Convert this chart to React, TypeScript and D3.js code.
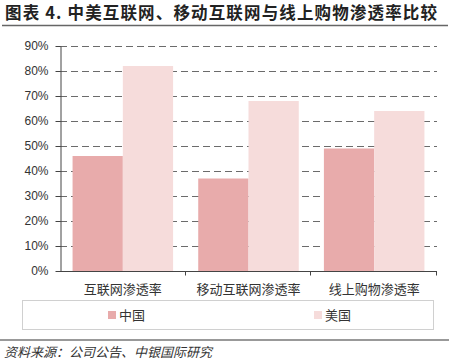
import React, { useEffect, useRef } from 'react';
import * as d3 from 'd3';

const categories = ['互联网渗透率', '移动互联网渗透率', '线上购物渗透率'];
const seriesNames = ['中国', '美国'];
const chinaValues = [0.46, 0.37, 0.49];
const usValues = [0.82, 0.68, 0.64];
const yTicks = [0, 0.1, 0.2, 0.3, 0.4, 0.5, 0.6, 0.7, 0.8, 0.9];

const title = '图表 4. 中美互联网、移动互联网与线上购物渗透率比较';
const source = '资料来源：公司公告、中银国际研究';

const W = 450;
const H = 362;
const colors = ['#E8ABAB', '#F6DCDB'];
const cjk = '"Noto Sans CJK SC", "Noto Sans", sans-serif';

const App: React.FC = () => {
    const svgRef = useRef<SVGSVGElement | null>(null);

    useEffect(() => {
        if (!svgRef.current) return;
        const svg = d3.select(svgRef.current);
        svg.selectAll('*').remove();

        const left = 60, right = 437, top = 46, bottom = 271;

        const x0 = d3.scaleBand<string>()
            .domain(categories)
            .range([left, right]);

        const bw = x0.bandwidth();
        const x1 = d3.scaleBand<string>()
            .domain(seriesNames)
            .range([bw * 0.1, bw * 0.9]);

        const y = d3.scaleLinear()
            .domain([0, 0.9])
            .range([bottom, top]);

        // title
        svg.append('text')
            .attr('x', 5)
            .attr('y', 19)
            .attr('font-family', cjk)
            .attr('font-weight', 'bold')
            .attr('font-size', 16.5)
            .attr('fill', '#222')
            .attr('textLength', 432)
            .text(title);

        svg.append('line')
            .attr('x1', 2).attr('x2', 448)
            .attr('y1', 25.5).attr('y2', 25.5)
            .attr('stroke', '#666')
            .attr('stroke-width', 1.5);

        // gridlines
        svg.append('g')
            .selectAll('line')
            .data(yTicks.filter(d => d > 0))
            .enter()
            .append('line')
            .attr('x1', left).attr('x2', right)
            .attr('y1', d => Math.round(y(d)) + 0.5)
            .attr('y2', d => Math.round(y(d)) + 0.5)
            .attr('stroke', '#6b6b6b')
            .attr('stroke-width', 1)
            .attr('stroke-dasharray', '7,4');

        // bars
        const rows = categories.map((c, i) => ({ c, vals: [chinaValues[i], usValues[i]] }));
        const groups = svg.append('g')
            .selectAll('g')
            .data(rows)
            .enter()
            .append('g')
            .attr('transform', d => `translate(${x0(d.c)},0)`);

        groups.selectAll('rect')
            .data(d => d.vals.map((v, j) => ({ name: seriesNames[j], v, j })))
            .enter()
            .append('rect')
            .attr('x', d => x1(d.name)!)
            .attr('width', x1.bandwidth())
            .attr('y', d => y(d.v))
            .attr('height', d => bottom - y(d.v))
            .attr('fill', d => colors[d.j]);

        // y axis
        const yAxis = svg.append('g').attr('transform', `translate(${left + 0.5},0)`)
            .call(d3.axisLeft(y).tickValues(yTicks).tickFormat(d3.format('.0%')).tickSize(5).tickSizeOuter(0));
        yAxis.select('.domain').attr('stroke', '#444');
        yAxis.selectAll('.tick line').attr('stroke', '#444');
        yAxis.selectAll('.tick text')
            .attr('font-family', '"Liberation Sans", Arial, sans-serif')
            .attr('font-size', 12)
            .attr('fill', '#333')
            .attr('x', -12);

        // x axis
        const xAxis = svg.append('g').attr('transform', `translate(0,${bottom + 0.5})`);
        xAxis.append('line')
            .attr('x1', left).attr('x2', right)
            .attr('stroke', '#444');
        xAxis.selectAll('line.tk')
            .data(categories)
            .enter()
            .append('line')
            .attr('class', 'tk')
            .attr('x1', d => Math.round(x0(d)! + bw) - 0.5)
            .attr('x2', d => Math.round(x0(d)! + bw) - 0.5)
            .attr('y1', 0).attr('y2', 4)
            .attr('stroke', '#444');
        xAxis.selectAll('text')
            .data(categories)
            .enter()
            .append('text')
            .attr('x', d => x0(d)! + bw / 2)
            .attr('y', 22)
            .attr('text-anchor', 'middle')
            .attr('font-family', cjk)
            .attr('font-size', 13)
            .attr('fill', '#333')
            .text(d => d);

        // legend
        svg.append('rect')
            .attr('x', 22.5).attr('y', 300.5)
            .attr('width', 411).attr('height', 29)
            .attr('fill', 'none')
            .attr('stroke', '#d0d0d0');

        const legendX = [108, 314];
        const lg = svg.append('g')
            .selectAll('g')
            .data(seriesNames)
            .enter()
            .append('g')
            .attr('transform', (d, i) => `translate(${legendX[i]},311)`);
        lg.append('rect')
            .attr('width', 8).attr('height', 8)
            .attr('fill', (d, i) => colors[i]);
        lg.append('text')
            .attr('x', 11)
            .attr('y', 8.5)
            .attr('font-family', cjk)
            .attr('font-size', 13)
            .attr('fill', '#333')
            .text(d => d);

        svg.append('line')
            .attr('x1', 0).attr('x2', 449)
            .attr('y1', 340).attr('y2', 340)
            .attr('stroke', '#777')
            .attr('stroke-width', 1.5);

        svg.append('text')
            .attr('x', 4)
            .attr('y', 357)
            .attr('font-family', cjk)
            .attr('font-style', 'italic')
            .attr('font-size', 13)
            .attr('fill', '#333')
            .text(source);
    }, []);

    return (
        <svg ref={svgRef} width={W} height={H}
            style={{ position: 'absolute', left: 0, top: 0, background: '#fff' }} />
    );
};

export default App;
